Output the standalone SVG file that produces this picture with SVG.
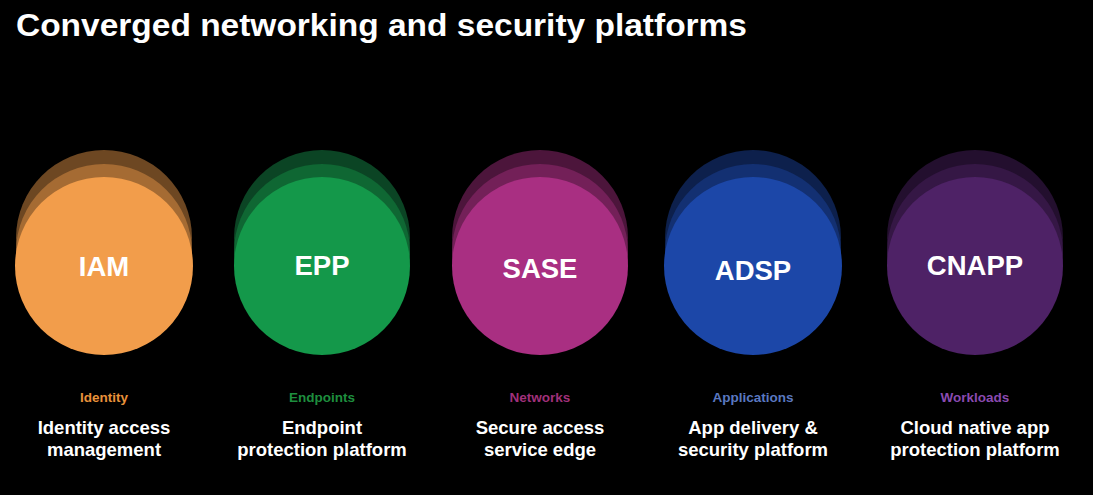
<svg xmlns="http://www.w3.org/2000/svg" width="1093" height="495" viewBox="0 0 1093 495">
<style>
.t{font-family:"Liberation Sans",Arial,sans-serif;font-weight:bold;text-anchor:middle}
.abbr{font-size:27.5px;fill:#ffffff}
.cat{font-size:13.5px}
.desc{font-size:18.5px;fill:#ffffff}
.title{font-family:"Liberation Sans",Arial,sans-serif;font-weight:bold;font-size:31px;fill:#ffffff}
</style>
<rect width="1093" height="495" fill="#000000"/>
<text class="title" x="16" y="36" textLength="731" lengthAdjust="spacingAndGlyphs">Converged networking and security platforms</text>

<g id="iam">
<ellipse cx="104" cy="238" rx="88" ry="88" fill="#6D4722"/>
<ellipse cx="104" cy="252" rx="88" ry="88" fill="#A56B33"/>
<ellipse cx="104" cy="266" rx="89" ry="89" fill="#F29D4B"/>
<text class="t abbr" x="104" y="276">IAM</text>
<text class="t cat" x="104" y="402" fill="#E8913A">Identity</text>
<text class="t desc" x="104" y="434">Identity access</text>
<text class="t desc" x="104" y="456">management</text>
</g>

<g id="epp">
<ellipse cx="322" cy="238" rx="88" ry="88" fill="#0B4424"/>
<ellipse cx="322" cy="252" rx="88" ry="88" fill="#0F6733"/>
<ellipse cx="322" cy="266" rx="88" ry="89" fill="#14984A"/>
<text class="t abbr" x="322" y="275">EPP</text>
<text class="t cat" x="322" y="402" fill="#1E8E3E">Endpoints</text>
<text class="t desc" x="322" y="434">Endpoint</text>
<text class="t desc" x="322" y="456">protection platform</text>
</g>

<g id="sase">
<ellipse cx="540" cy="238" rx="88" ry="88" fill="#4C153B"/>
<ellipse cx="540" cy="252" rx="88" ry="88" fill="#732058"/>
<ellipse cx="540" cy="266" rx="88" ry="89" fill="#A92F82"/>
<text class="t abbr" x="540" y="278">SASE</text>
<text class="t cat" x="540" y="402" fill="#A0307A">Networks</text>
<text class="t desc" x="540" y="434">Secure access</text>
<text class="t desc" x="540" y="456">service edge</text>
</g>

<g id="adsp">
<ellipse cx="753" cy="238" rx="88" ry="88" fill="#0D204C"/>
<ellipse cx="753" cy="252" rx="88" ry="88" fill="#133072"/>
<ellipse cx="753" cy="266" rx="89" ry="89" fill="#1C47A8"/>
<text class="t abbr" x="753" y="280">ADSP</text>
<text class="t cat" x="753" y="402" fill="#5A78C0">Applications</text>
<text class="t desc" x="753" y="434">App delivery &amp;</text>
<text class="t desc" x="753" y="456">security platform</text>
</g>

<g id="cnapp">
<ellipse cx="975" cy="238" rx="88" ry="88" fill="#230F2E"/>
<ellipse cx="975" cy="252" rx="88" ry="88" fill="#351745"/>
<ellipse cx="975" cy="266" rx="88" ry="89" fill="#4E2266"/>
<text class="t abbr" x="975" y="275">CNAPP</text>
<text class="t cat" x="975" y="402" fill="#8A4AB0">Workloads</text>
<text class="t desc" x="975" y="434">Cloud native app</text>
<text class="t desc" x="975" y="456">protection platform</text>
</g>

<g id="connectors"></g>
</svg>
